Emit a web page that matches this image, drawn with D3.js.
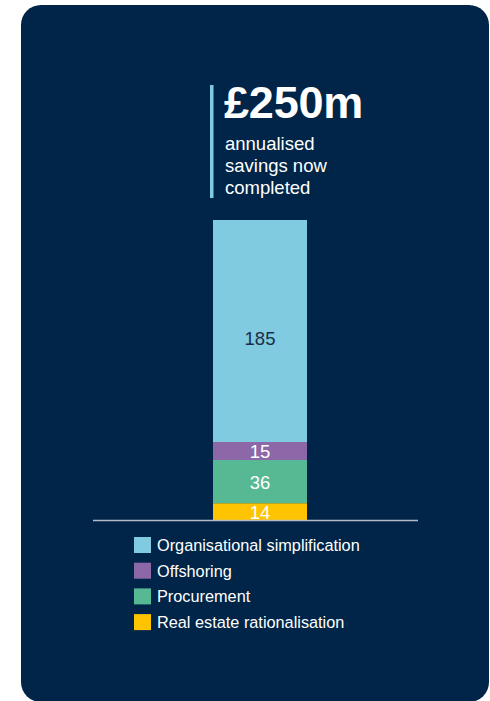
<!DOCTYPE html>
<html>
<head>
<meta charset="utf-8">
<script src="https://cdn.jsdelivr.net/npm/d3@7"></script>
<style>
  html, body { margin: 0; padding: 0; background: #ffffff; }
  svg { display: block; }
  text { font-family: "Liberation Sans", Arial, sans-serif; }
</style>
</head>
<body>
<script>
const categories = ["Real estate rationalisation", "Procurement", "Offshoring", "Organisational simplification"];
const values = [14, 36, 15, 185];
const colors = ["#ffc400", "#56b994", "#8c68a9", "#80cbdf"];
const labelColors = ["#ffffff", "#ffffff", "#ffffff", "#1b2d4a"];
const legendOrder = ["Organisational simplification", "Offshoring", "Procurement", "Real estate rationalisation"];
const headline = "£250m";
const subtitle = ["annualised", "savings now", "completed"];

const W = 490, H = 701;
const svg = d3.select("body").append("svg").attr("width", W).attr("height", H);

svg.append("rect").attr("x", 21).attr("y", 5).attr("width", 468).attr("height", 697)
  .attr("rx", 20).attr("fill", "#002548");

// stack
let acc = 0;
const stacked = categories.map((c, i) => { const d = {cat: c, v: values[i], y0: acc, y1: acc + values[i], i}; acc += values[i]; return d; });
const total = acc;
const maxV = d3.max(values);

const y = d3.scaleLinear().domain([0, total]).range([520, 220]);
const x = d3.scaleBand().domain(["savings"]).range([213, 307]).padding(0);

svg.selectAll("rect.seg").data(stacked).enter().append("rect")
  .attr("class", "seg")
  .attr("x", x("savings")).attr("width", x.bandwidth())
  .attr("y", d => y(d.y1)).attr("height", d => y(d.y0) - y(d.y1))
  .attr("fill", d => colors[d.i]);

svg.selectAll("text.lbl").data(stacked).enter().append("text")
  .attr("class", "lbl")
  .attr("x", x("savings") + x.bandwidth() / 2)
  .attr("y", d => (y(d.y0) + y(d.y1)) / 2 + 7 + (d.v === maxV ? 7 : 0))
  .attr("text-anchor", "middle")
  .attr("font-size", 18.5)
  .attr("fill", d => labelColors[d.i])
  .text(d => d.v);

// baseline
svg.append("line").attr("x1", 93).attr("x2", 418).attr("y1", 520.5).attr("y2", 520.5)
  .attr("stroke", "#b4bcc6").attr("stroke-width", 1.6);

// headline block
svg.append("rect").attr("x", 210).attr("y", 85).attr("width", 3.5).attr("height", 113).attr("fill", "#80cbdf");
svg.append("text").attr("x", 224).attr("y", 118).attr("font-size", 45).attr("font-weight", "bold")
  .attr("fill", "#ffffff").attr("letter-spacing", -0.2).text(headline);
svg.selectAll("text.sub").data(subtitle).enter().append("text")
  .attr("class", "sub")
  .attr("x", 225).attr("y", (d, i) => 149.5 + i * 22.3)
  .attr("font-size", 18.5).attr("fill", "#ffffff").text(d => d);

// legend
const lg = svg.selectAll("g.leg").data(legendOrder).enter().append("g")
  .attr("class", "leg")
  .attr("transform", (d, i) => `translate(134, ${537 + i * 25.7})`);
lg.append("rect").attr("width", 17).attr("height", 16)
  .attr("fill", d => colors[categories.indexOf(d)]);
lg.append("text").attr("x", 23).attr("y", 14).attr("font-size", 16.3)
  .attr("fill", "#ffffff").text(d => d);
</script>
</body>
</html>
